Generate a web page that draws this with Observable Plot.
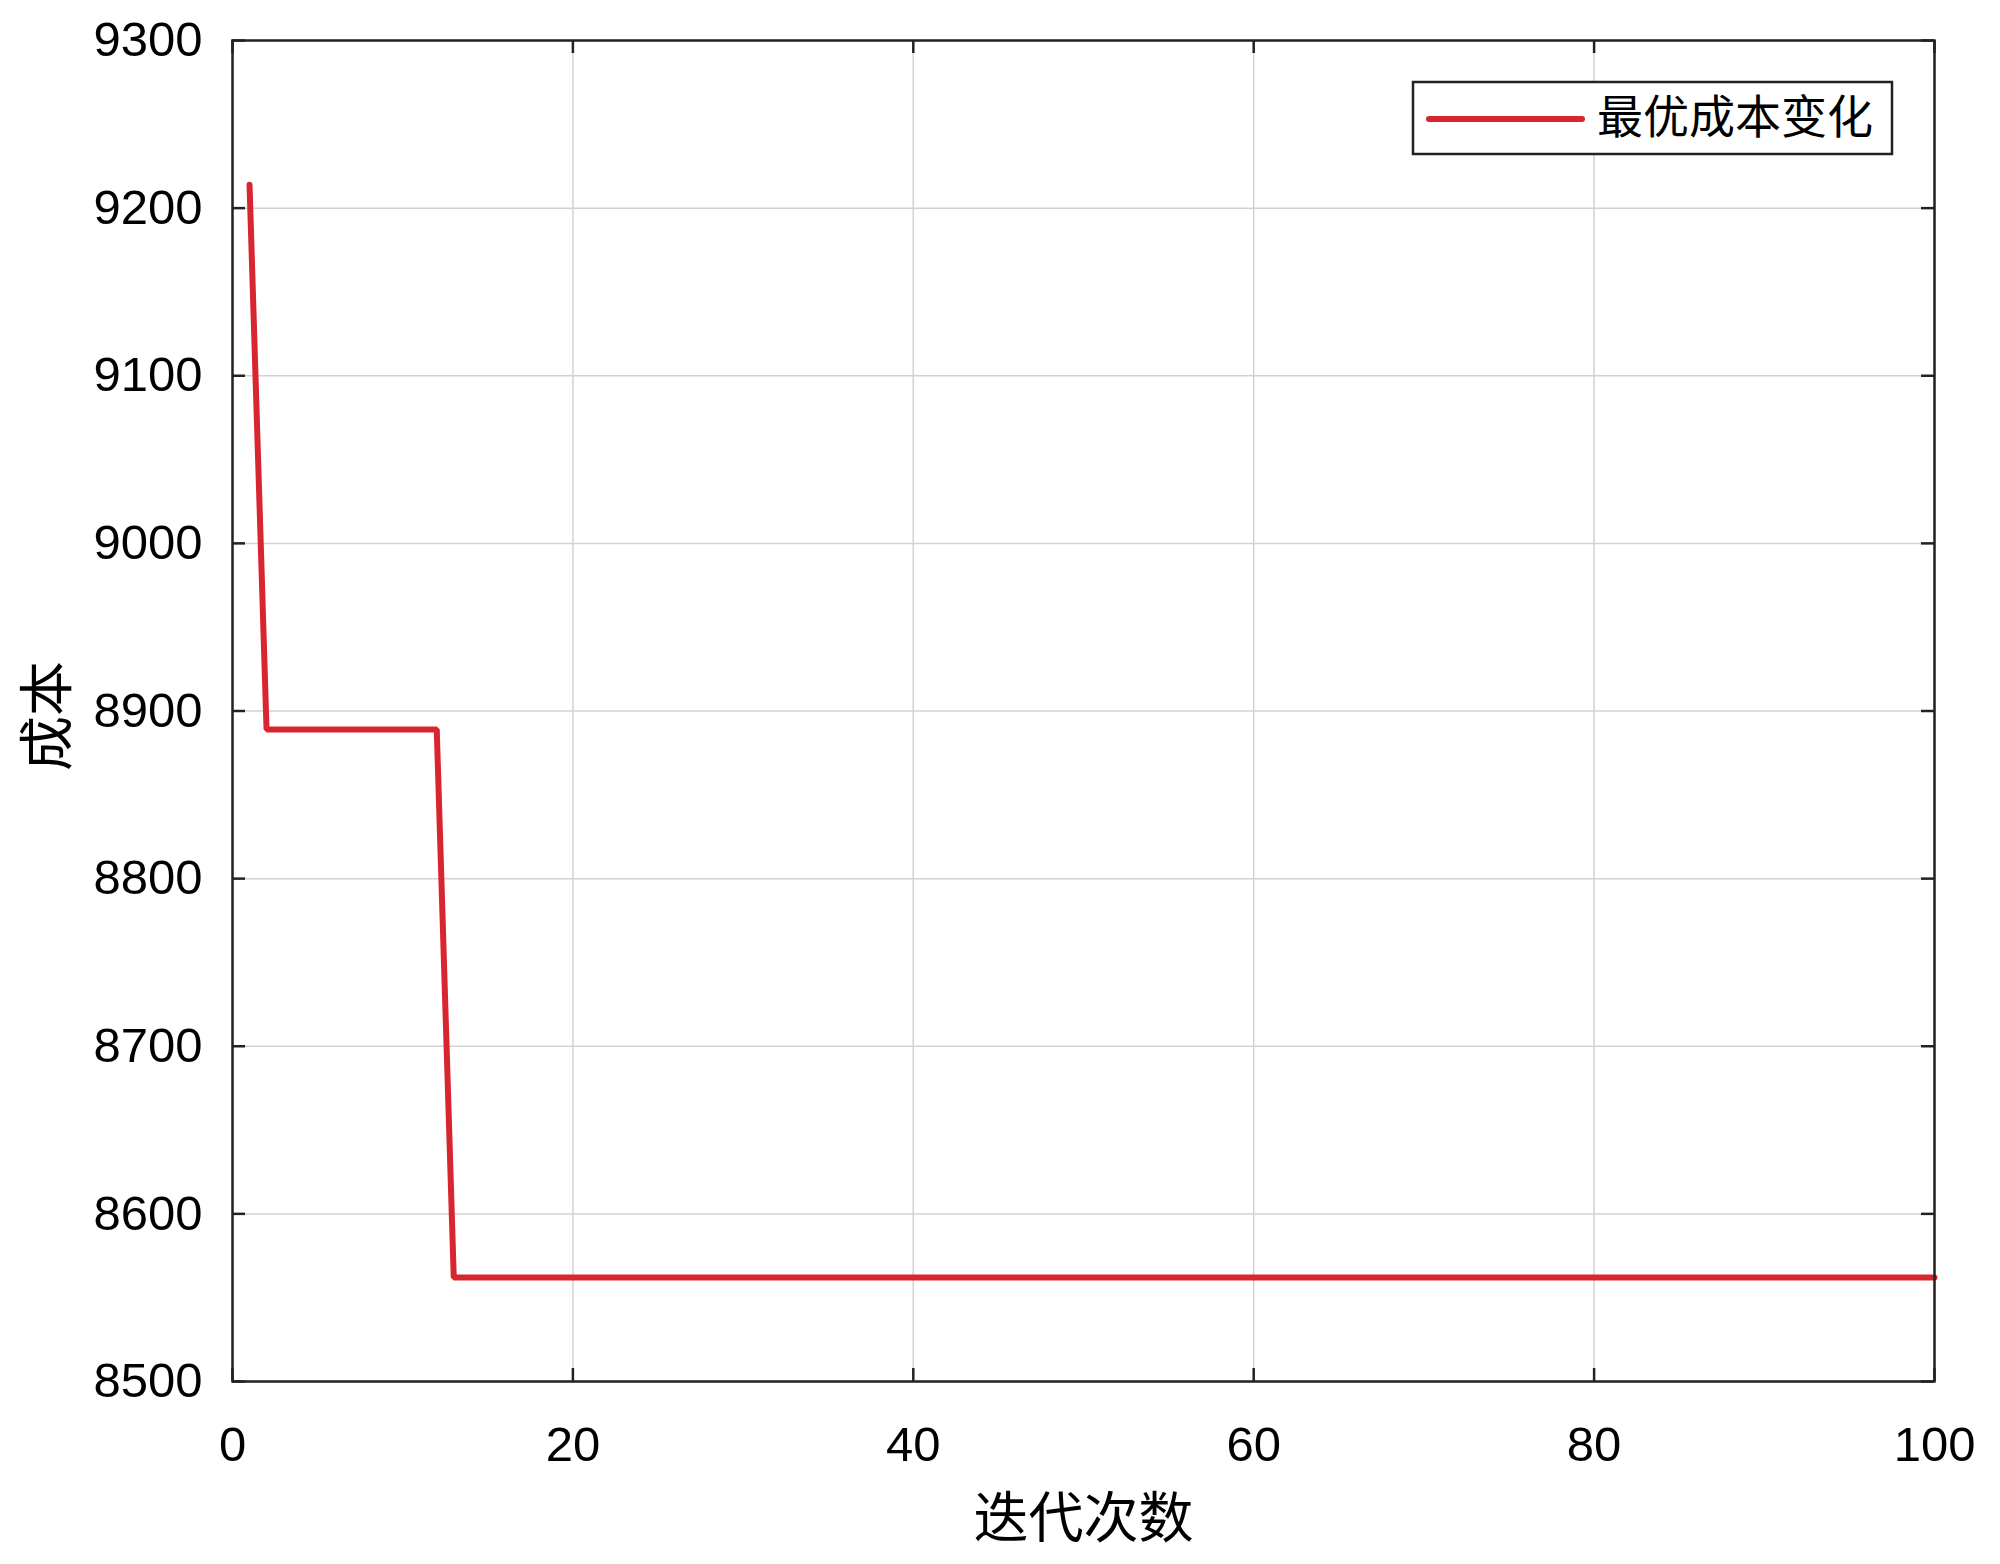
<!DOCTYPE html>
<html>
<head>
<meta charset="utf-8">
<script src="https://cdn.jsdelivr.net/npm/d3@7"></script>
<script src="https://cdn.jsdelivr.net/npm/@observablehq/plot@0.6"></script>
<style>
  html, body { margin: 0; padding: 0; background: #fff; }
  #chart svg { display: block; }
</style>
</head>
<body>
<div id="chart"></div>
<script>
// Data (iteration, best cost) — step curve
const iterations = [1, 2, 12, 13, 100];
const costs = [9214, 8889, 8889, 8562, 8562];
const xTicks = [0, 20, 40, 60, 80, 100];
const yTicks = [8500, 8600, 8700, 8800, 8900, 9000, 9100, 9200, 9300];
const seriesName = "最优成本变化";
const xLabel = "迭代次数";
const yLabel = "成本";

const data = iterations.map((it, i) => ({iter: it, cost: costs[i]}));

const W = 2000, H = 1564;
const mL = 232, mR = 66, mT = 40, mB = 183;
const plotW = W - mL - mR, plotH = H - mT - mB;
const tickLen = 13;
const lineColor = "#d7262f";
const cjk = "'Noto Sans CJK SC', sans-serif";

const chart = Plot.plot({
  width: W,
  height: H,
  marginLeft: mL,
  marginRight: mR,
  marginTop: mT,
  marginBottom: mB,
  style: {fontFamily: "'Liberation Sans', Arial, sans-serif", background: "#fff", color: "#000"},
  x: {domain: [0, 100]},
  y: {domain: [8500, 9300]},
  marks: [
    Plot.gridX(xTicks, {stroke: "#d2d2d2", strokeOpacity: 1, strokeWidth: 1.5}),
    Plot.gridY(yTicks, {stroke: "#d2d2d2", strokeOpacity: 1, strokeWidth: 1.5}),
    // inward ticks on all four sides
    Plot.tickX(xTicks, {x: d => d, insetTop: plotH - tickLen, stroke: "#222", strokeWidth: 2.5}),
    Plot.tickX(xTicks, {x: d => d, insetBottom: plotH - tickLen, stroke: "#222", strokeWidth: 2.5}),
    Plot.tickY(yTicks, {y: d => d, insetRight: plotW - tickLen, stroke: "#222", strokeWidth: 2.5}),
    Plot.tickY(yTicks, {y: d => d, insetLeft: plotW - tickLen, stroke: "#222", strokeWidth: 2.5}),
    Plot.axisX(xTicks, {tickSize: 0, tickPadding: 45, fontSize: 49, tickFormat: d => String(d), label: null}),
    Plot.axisY(yTicks, {tickSize: 0, tickPadding: 30, fontSize: 49, tickFormat: d => String(d), label: null}),
    Plot.line(data, {x: "iter", y: "cost", stroke: lineColor, strokeWidth: 6, strokeLinejoin: "miter"}),
    Plot.frame({stroke: "#222", strokeWidth: 2.5}),
    Plot.text([xLabel], {frameAnchor: "bottom", dy: 155, fontSize: 55, fontFamily: cjk, fill: "#000"}),
    Plot.text([yLabel], {frameAnchor: "left", dx: -184, dy: 60, rotate: -90, fontSize: 55, fontFamily: cjk, fill: "#000"})
  ]
});

// Legend inside the plot (top right)
const svg = d3.select(chart);
const lg = svg.append("g").attr("class", "legend");
const bx = 1413, by = 82, bw = 479, bh = 72;
lg.append("rect").attr("x", bx).attr("y", by).attr("width", bw).attr("height", bh)
  .attr("fill", "#fff").attr("stroke", "#222").attr("stroke-width", 2.5);
lg.append("line").attr("x1", bx + 16).attr("x2", bx + 169).attr("y1", by + 37).attr("y2", by + 37)
  .attr("stroke", lineColor).attr("stroke-width", 6).attr("stroke-linecap", "round");
lg.append("text").attr("x", bx + 184).attr("y", by + 39).attr("dominant-baseline", "middle")
  .attr("text-anchor", "start")
  .attr("font-family", cjk).attr("font-size", 46).attr("fill", "#000")
  .text(seriesName);

document.getElementById("chart").appendChild(chart);
</script>
</body>
</html>
